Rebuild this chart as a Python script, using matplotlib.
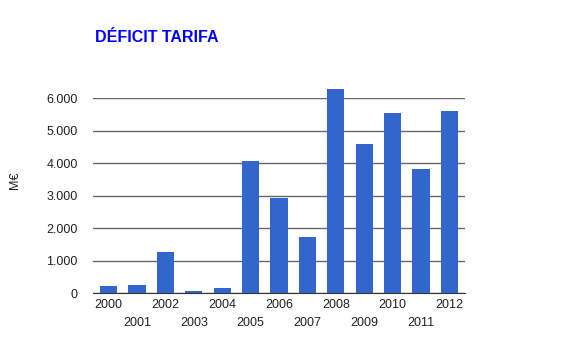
import matplotlib
matplotlib.use("Agg")
import matplotlib.pyplot as plt
from matplotlib.ticker import FuncFormatter

years = ["2000", "2001", "2002", "2003", "2004", "2005", "2006", "2007",
         "2008", "2009", "2010", "2011", "2012"]
values = [230, 265, 1260, 60, 170, 4065, 2930, 1730, 6285, 4595, 5550, 3825, 5610]
yticks = [0, 1000, 2000, 3000, 4000, 5000, 6000]

plt.rcParams['font.family'] = ['Liberation Sans', 'DejaVu Sans']

fig = plt.figure(figsize=(5.65, 3.53), dpi=100)
W, H = 565, 353
ax = fig.add_axes([93 / W, 1 - 293.3 / H, (465 - 93) / W, (293.3 - 98.3) / H])

x = list(range(len(years)))
bars = ax.bar(x, values, width=0.6, color="#3366CC", zorder=3)
for b in bars:
    b.set_clip_on(False)
ax.set_xlim(-0.55, 12.55)
ax.set_ylim(0, 6000)
ax.set_yticks(yticks)
ax.yaxis.set_major_formatter(FuncFormatter(lambda v, p: f"{int(v):,}".replace(",", ".")))
ax.grid(axis="y", color="#666666", linewidth=1, zorder=0)
for s in ["top", "right", "left"]:
    ax.spines[s].set_visible(False)
ax.spines["bottom"].set_color("#333333")
ax.spines["bottom"].set_zorder(4)
ax.tick_params(axis="y", length=0, pad=11, labelsize=9, labelcolor="#222222")
ax.tick_params(axis="x", length=0, labelsize=9, labelcolor="#222222")
ax.set_xticks(x)
ax.set_xticklabels([])
for i, y in enumerate(years):
    off = 0 if i % 2 == 0 else 18
    ax.annotate(y, xy=(i, 0), xycoords="data", xytext=(0, -6 - off),
                textcoords="offset pixels",
                ha="center", va="top", fontsize=9, color="#222222")

fig.text(15 / W, 1 - 180 / H, "M€", rotation=90, ha="center", va="center",
         fontsize=9, color="#222222")
fig.text(95 / W, 1 - 38 / H, "DÉFICIT TARIFA", ha="left", va="center",
         fontsize=11.5, fontweight="bold", color="#0000FF")

fig.savefig("out.png", dpi=100)
